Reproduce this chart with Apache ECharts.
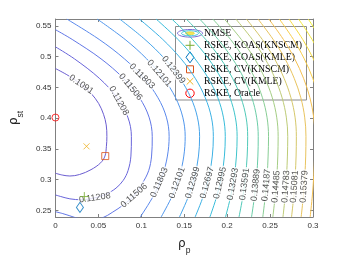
<!DOCTYPE html>
<html><head><meta charset="utf-8">
<script src="https://cdn.jsdelivr.net/npm/echarts@6/dist/echarts.min.js"></script>
<style>html,body{margin:0;padding:0;background:#fff}#c{width:346px;height:260px}</style>
</head><body><div id="c"></div>
<script>
// ---------- data ----------
const xTicks = [0, 0.05, 0.1, 0.15, 0.2, 0.25, 0.3];
const xTickLabels = ['0', '0.05', '0.1', '0.15', '0.2', '0.25', '0.3'];
const yTicks = [0.25, 0.3, 0.35, 0.4, 0.45, 0.5, 0.55];
const yTickLabels = ['0.25', '0.3', '0.35', '0.4', '0.45', '0.5', '0.55'];

const levelLabels = ['0.1091','0.11208','0.11506','0.11803','0.12101','0.12399','0.12697','0.12995',
  '0.13293','0.13591','0.13889','0.14187','0.14485','0.14783','0.15081','0.15379'];

// inner contours traced as [rho_p, rho_st] pairs
const c01 = [[0,0.4806],[0.01455,0.4695],[0.03022,0.4545],[0.04142,0.4403],[0.05037,0.4237],[0.05597,0.4063],
  [0.05911,0.3890],[0.05989,0.3700],[0.05933,0.3542],[0.05765,0.3384],[0.05261,0.3274],[0.04142,0.3163],
  [0.02799,0.3084],[0.01679,0.3060],[0.00784,0.3076],[0,0.3105]];
const c02 = [[0,0.5158],[0.02205,0.4964],[0.05105,0.4648],[0.07187,0.4332],[0.08429,0.4016],[0.08844,0.3700],
  [0.08788,0.3384],[0.08452,0.3147],[0.07892,0.2989],[0.07052,0.2863],[0.05933,0.2768],[0.0459,0.2705],
  [0.03022,0.2674],[0.01679,0.2689],[0.0056,0.2729],[0,0.2752]];
const c03 = [[0,0.5437],[0.01948,0.5279],[0.05306,0.4964],[0.07914,0.4648],[0.09784,0.4332],[0.10903,0.4016],
  [0.11273,0.3700],[0.11194,0.3384],[0.10859,0.3147],[0.10131,0.2942],[0.09235,0.2752],[0.07948,0.2595],
  [0.06605,0.2468],[0.05485,0.2381],[0.04142,0.2342],[0.02799,0.2366],[0.01679,0.2413],[0.00784,0.2452],[0,0.2479]];

// outer contours: rho_p read at these rho_st rows
const stRows = [0.5611,0.5279,0.4964,0.4648,0.4332,0.4016,0.3700,0.3384,0.3068,0.2752,0.2394];
const c04 = [0.0131,0.0509,0.0803,0.1031,0.1194,0.1292,0.1324,0.1304,0.1246,0.1147,0.0988];
const c05 = [0.0485,0.0811,0.1062,0.1258,0.1399,0.1483,0.1511,0.1495,0.1446,0.1365,0.1231];
const c06 = [0.0747,0.1042,0.1272,0.1450,0.1577,0.1653,0.1679,0.1666,0.1624,0.1556,0.1444];
const c07 = [0.0977,0.1250,0.1463,0.1628,0.1745,0.1816,0.1839,0.1827,0.1790,0.1727,0.1627];
const c08 = [0.1172,0.1427,0.1625,0.1780,0.1891,0.1956,0.1978,0.1968,0.1937,0.1884,0.1799];
const c09 = [0.1355,0.1596,0.1783,0.1929,0.2033,0.2095,0.2116,0.2108,0.2084,0.2045,0.1981];
const c10 = [0.1523,0.1750,0.1925,0.2063,0.2161,0.2220,0.2239,0.2233,0.2215,0.2186,0.2138];
const c11 = [0.1679,0.1895,0.2063,0.2194,0.2288,0.2343,0.2362,0.2358,0.2344,0.2321,0.2284];
const c12 = [0.1833,0.2039,0.2199,0.2322,0.2411,0.2464,0.2482,0.2477,0.2466,0.2446,0.2415];
const c13 = [0.1967,0.2165,0.2320,0.2439,0.2526,0.2577,0.2594,0.2590,0.2579,0.2561,0.2532];
const c14 = [0.2101,0.2293,0.2442,0.2557,0.2640,0.2689,0.2706,0.2702,0.2692,0.2677,0.2650];
const c15 = [0.2224,0.2409,0.2552,0.2663,0.2743,0.2791,0.2806,0.2803,0.2793,0.2777,0.2750];
const c16 = [0.2359,0.2536,0.2674,0.2781,0.2858,0.2903,0.2918,0.2915,0.2905,0.2889,0.2862];
const c17 = [0.2485,0.2655,0.2787,0.2890,0.2964,0.3008,0.3023,0.3019,0.3009,0.2993,0.2967];
const c18 = [0.2608,0.2772,0.2898,0.2997,0.3067,0.3109,0.3123];
const c19 = [0.2720,0.2880,0.3004,0.3100,0.3169];
const c20 = [0.2832,0.2989,0.3110,0.3204];
const c21 = [0.2944,0.3096,0.3215];

// contour label spots: [contour index, rho_p, rho_st]
const labelSpots = [[0,0.0302,0.4553],[1,0.0739,0.4284],[2,0.0873,0.4505],[3,0.1019,0.4695],[4,0.1209,0.4727],[5,0.1366,0.4774],
  [1,0.0459,0.2697],[2,0.0918,0.2737],[3,0.1231,0.2942],[4,0.1433,0.2942],[5,0.1623,0.2942],[6,0.1791,0.2942],
  [7,0.1937,0.2942],[8,0.2082,0.2926],[9,0.2211,0.2926],[10,0.2340,0.2911],[11,0.2463,0.2911],[12,0.2569,0.2887],
  [13,0.2681,0.2887],[14,0.2787,0.2887],[15,0.2899,0.2887]];

// estimator points
const koasKnscm = [[0.0336, 0.2726]];
const koasKmle  = [[0.0285, 0.2550]];
const cvKnscm   = [[0.0580, 0.3384]];
const cvKmle    = [[0.0362, 0.3542]];
const oracle    = [[0.0, 0.4010]];

// ---------- styles ----------
const lineColors = ['#6a5cd0','#6864da','#6277e6','#5a88ec','#5096ec','#45a4ea','#3cb1e4','#38bcda','#3fc4cb',
  '#50c9b8','#6acca6','#88cd94','#a4cd84','#bdcb76','#d5c76a','#e8c35e','#f4c152','#f7cd4a','#f4da42','#f0e63a','#f0ef36'];

const chart = echarts.init(document.getElementById('c'), null, {renderer: 'canvas'});
const outer = [c04,c05,c06,c07,c08,c09,c10,c11,c12,c13,c14,c15,c16,c17,c18,c19,c20,c21]
  .map(xs => xs.map((x, i) => [x, stRows[i]]));
const contours = [c01, c02, c03].concat(outer);

const axisColor = '#808080';
const tickFont = {fontSize: 8, fontFamily: 'Liberation Sans', color: '#333'};
function lab(ticks, labels) {
  return v => { let i = ticks.findIndex(t => Math.abs(t - v) < 1e-6); return i >= 0 ? labels[i] : ''; };
}

const series = contours.map((pts, k) => ({
  type: 'line', data: pts, symbol: 'none', showSymbol: false, smooth: 0.35, clip: true, silent: true,
  lineStyle: {color: lineColors[k], width: 1}, z: 2, xAxisIndex: 0, yAxisIndex: 0, animation: false
}));
series.push({
  id: 'lbl', type: 'scatter', data: [], symbolSize: 1, itemStyle: {color: 'rgba(0,0,0,0)'}, z: 3, silent: true,
  xAxisIndex: 0, yAxisIndex: 0, animation: false,
  label: {show: true, position: 'inside', formatter: '{b}', fontSize: 9, fontFamily: 'Liberation Sans', color: '#262626',
    backgroundColor: '#fff', padding: [0, 1], align: 'center', verticalAlign: 'middle'}
});
function mk(data, symbol, size, color) {
  return {type: 'scatter', data, symbol, symbolSize: size, z: 5, silent: true, xAxisIndex: 0, yAxisIndex: 0, clip: false,
    animation: false, itemStyle: {color: 'none', borderColor: color, borderWidth: 1}};
}
series.push(mk(koasKnscm, 'path://M0,5L10,5M5,0L5,10', 9, '#77ac30'));
series.push(mk(koasKmle, 'diamond', [7, 10], '#0072bd'));
series.push(mk(cvKnscm, 'rect', 7, '#d95319'));
series.push(mk(cvKmle, 'path://M0,0L10,10M10,0L0,10', 6, '#edb120'));
series.push(mk(oracle, 'circle', 7, '#ff0000'));

// legend drawn as graphic
const LX = 190, TX = 204;
const legendRows = [33.3, 45.3, 57.3, 69.3, 81.3, 93.3];
const legendNames = ['NMSE', 'RSKE, KOAS(KNSCM)', 'RSKE, KOAS(KMLE)', 'RSKE, CV(KNSCM)', 'RSKE, CV(KMLE)', 'RSKE, Oracle'];
const lg = [];
lg.push({type: 'rect', shape: {x: 175.5, y: 26.5, width: 131, height: 73.5}, style: {fill: '#fff', stroke: '#8c8c8c', lineWidth: 1}});
lg.push({type: 'ellipse', shape: {cx: LX, cy: legendRows[0], rx: 12.5, ry: 3.8}, style: {fill: 'none', stroke: '#7a6cd6', lineWidth: 1}});
lg.push({type: 'ellipse', shape: {cx: LX, cy: legendRows[0], rx: 8.5, ry: 2.5}, style: {fill: 'none', stroke: '#40c0dc', lineWidth: 1}});
lg.push({type: 'ellipse', shape: {cx: LX, cy: legendRows[0], rx: 4.5, ry: 1.3}, style: {fill: '#f2e65a', stroke: '#eadc48', lineWidth: 1}});
let r = legendRows;
lg.push({type: 'polyline', shape: {points: [[LX - 4.5, r[1]], [LX + 4.5, r[1]]]}, style: {stroke: '#77ac30', lineWidth: 1}});
lg.push({type: 'polyline', shape: {points: [[LX, r[1] - 4.5], [LX, r[1] + 4.5]]}, style: {stroke: '#77ac30', lineWidth: 1}});
lg.push({type: 'polygon', shape: {points: [[LX, r[2] - 5.5], [LX + 4, r[2]], [LX, r[2] + 5.5], [LX - 4, r[2]]]}, style: {fill: 'none', stroke: '#0072bd', lineWidth: 1}});
lg.push({type: 'rect', shape: {x: LX - 3.5, y: r[3] - 3.5, width: 7, height: 7}, style: {fill: 'none', stroke: '#d95319', lineWidth: 1}});
lg.push({type: 'polyline', shape: {points: [[LX - 3.3, r[4] - 3.3], [LX + 3.3, r[4] + 3.3]]}, style: {stroke: '#edb120', lineWidth: 1}});
lg.push({type: 'polyline', shape: {points: [[LX + 3.3, r[4] - 3.3], [LX - 3.3, r[4] + 3.3]]}, style: {stroke: '#edb120', lineWidth: 1}});
lg.push({type: 'circle', shape: {cx: LX, cy: r[5], r: 4.2}, style: {fill: 'none', stroke: '#ff0000', lineWidth: 1}});
legendNames.forEach((t, i) => lg.push({type: 'text', x: TX, y: r[i], style: {text: t, fill: '#000', font: '9.8px "Liberation Serif"', verticalAlign: 'middle', textVerticalAlign: 'middle'}}));

const rich = {
  r: {fontSize: 12, fontFamily: 'DejaVu Sans', color: '#262626', lineHeight: 14, verticalAlign: 'top'},
  s: {fontSize: 8.5, fontFamily: 'Liberation Sans', color: '#262626', lineHeight: 9, padding: [8, 0, 0, 0], verticalAlign: 'top'}
};

const option = {
  animation: false,
  grid: {left: 45, right: 33, top: 19, bottom: 37.3, show: false},
  xAxis: [
    {type: 'value', min: 0, max: 0.3, interval: 0.05, position: 'bottom',
      axisLine: {show: true, onZero: false, lineStyle: {color: axisColor, width: 1}},
      axisTick: {show: true, inside: true, length: 3, lineStyle: {color: axisColor}},
      axisLabel: Object.assign({margin: 5, formatter: lab(xTicks, xTickLabels)}, tickFont),
      splitLine: {show: false},
      name: '{r|ρ}{s|p}', nameLocation: 'middle', nameGap: 21, nameTextStyle: {rich}},
    {type: 'value', min: 0, max: 0.3, interval: 0.05, position: 'top',
      axisLine: {show: true, onZero: false, lineStyle: {color: axisColor, width: 1}},
      axisTick: {show: true, inside: true, length: 3, lineStyle: {color: axisColor}},
      axisLabel: {show: false}, splitLine: {show: false}}
  ],
  yAxis: [
    {type: 'value', min: 0.2394, max: 0.5611, position: 'left',
      axisLine: {show: true, onZero: false, lineStyle: {color: axisColor, width: 1}},
      axisTick: {show: true, inside: true, length: 3, customValues: yTicks, lineStyle: {color: axisColor}},
      axisLabel: Object.assign({margin: 4, customValues: yTicks, formatter: lab(yTicks, yTickLabels)}, tickFont),
      splitLine: {show: false},
      name: '{r|ρ}{s|st}', nameLocation: 'middle', nameGap: 20, nameRotate: 90, nameTextStyle: {rich}},
    {type: 'value', min: 0.2394, max: 0.5611, position: 'right',
      axisLine: {show: true, onZero: false, lineStyle: {color: axisColor, width: 1}},
      axisTick: {show: true, inside: true, length: 3, customValues: yTicks, lineStyle: {color: axisColor}},
      axisLabel: {show: false}, splitLine: {show: false}}
  ],
  graphic: [{type: 'group', z: 100, children: lg}],
  series
};
chart.setOption(option);

// place level labels on their contour, rotated along it
function nearest(pts, q) {
  let best = {d: 1e9};
  for (let i = 0; i < pts.length - 1; i++) {
    const a = pts[i], b = pts[i + 1];
    const dx = b[0] - a[0], dy = b[1] - a[1];
    const L = dx * dx + dy * dy;
    let t = L ? ((q[0] - a[0]) * dx + (q[1] - a[1]) * dy) / L : 0;
    t = Math.max(0, Math.min(1, t));
    const p = [a[0] + t * dx, a[1] + t * dy];
    const d = Math.hypot(p[0] - q[0], p[1] - q[1]);
    if (d < best.d) best = {d, p, dx, dy};
  }
  return best;
}
const toPx = v => chart.convertToPixel({seriesIndex: 0}, v);
const lblData = labelSpots.map(([k, x, y]) => {
  const pts = contours[k].map(toPx);
  const b = nearest(pts, toPx([x, y]));
  let ang = Math.atan2(-b.dy, b.dx) * 180 / Math.PI;
  if (ang > 90) ang -= 180;
  if (ang < -90) ang += 180;
  return {name: levelLabels[k], value: chart.convertFromPixel({seriesIndex: 0}, b.p), label: {rotate: ang}};
});
chart.setOption({series: [{id: 'lbl', data: lblData}]});
</script></body></html>
